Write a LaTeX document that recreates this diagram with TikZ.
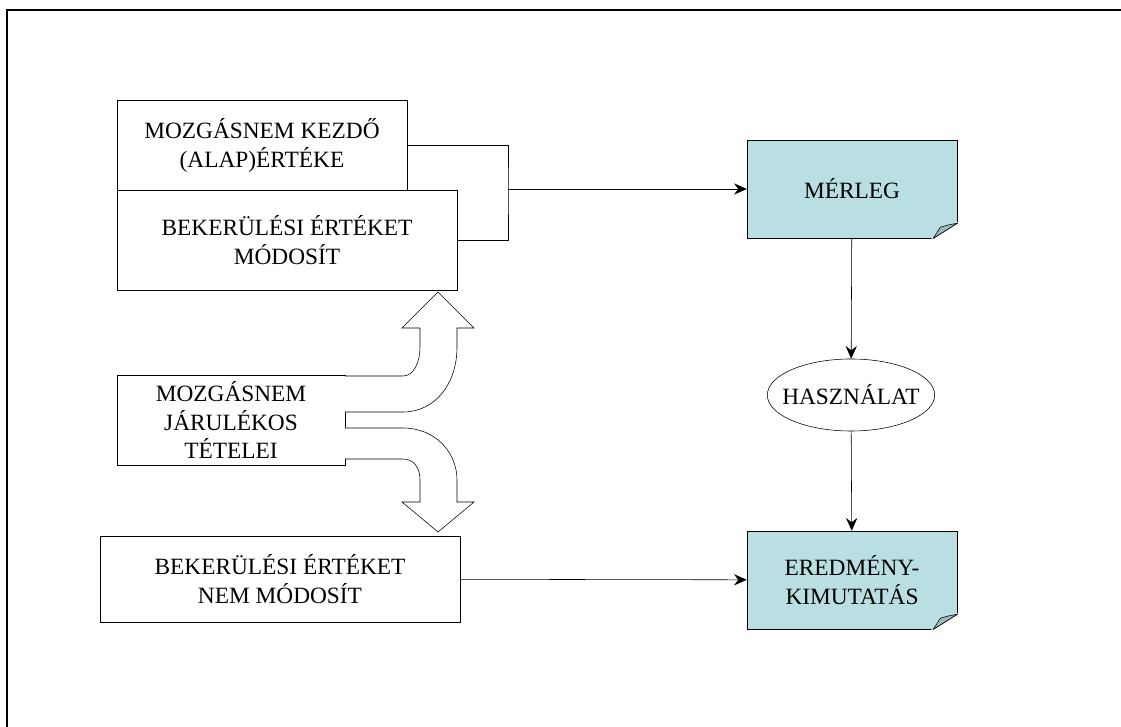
\documentclass[tikz,border=0pt]{standalone}
\usepackage{fontspec}
\setmainfont{Liberation Serif}
\usetikzlibrary{arrows.meta,shapes.geometric}

\definecolor{notefill}{RGB}{186,223,226}
\definecolor{earfill}{RGB}{158,184,187}

\tikzset{
  box/.style={shape=rectangle,draw=black,fill=white,align=center,inner sep=2pt},
  docbox/.style={shape=rectangle,draw=black,fill=notefill,align=center,
    minimum width=5.25cm,minimum height=2.45cm},
  blockarrow/.style={draw=black,fill=white,line join=miter},
  frame/.style={draw=black,line width=1.8pt},
  every edge/.style={draw=black,-{Stealth[length=9pt,width=8pt,inset=3pt]}}
}

% folded bottom-right corner of a note box
\newcommand\dogear[1]{%
  \fill[white,draw=white,line width=1pt] ([xshift=-0.6cm]#1.south east) -- ([yshift=-0.05cm,xshift=0.05cm]#1.south east) -- ([yshift=0.375cm]#1.south east) -- cycle;
  \draw ([xshift=-0.6cm]#1.south east) -- ([yshift=0.375cm]#1.south east);
  \filldraw[fill=earfill] ([xshift=-0.6cm]#1.south east) -- ([xshift=-0.425cm,yshift=0.275cm]#1.south east) .. controls ([xshift=-0.25cm,yshift=0.33cm]#1.south east) .. ([yshift=0.375cm]#1.south east) -- cycle;
}

\begin{document}
\begin{tikzpicture}[x=0.025cm,y=-0.025cm,font=\fontsize{16.6pt}{20.6pt}\selectfont]
  \useasboundingbox (0,0) rectangle (1121,727);
  \draw[frame] (7,727) -- (7,10) -- (1121,10);

  \node[box,minimum width=7.25cm,minimum height=2.25cm] (kezdo) at (262,145) {MOZGÁSNEM KEZDŐ\\(ALAP)ÉRTÉKE};
  \node[box,minimum width=8.5cm,minimum height=2.5cm] (modosit) at (287,240) {BEKERÜLÉSI ÉRTÉKET\\MÓDOSÍT};
  \node[box,minimum width=5.7cm,minimum height=2.25cm] (tetel) at (231,420) {MOZGÁSNEM\\JÁRULÉKOS\\TÉTELEI};
  \node[box,minimum width=9cm,minimum height=2.15cm] (nemmod) at (280,579) {BEKERÜLÉSI ÉRTÉKET\\NEM MÓDOSÍT};

  \node[docbox] (merleg) at (852,189) {MÉRLEG};
  \dogear{merleg}
  \node[shape=ellipse,draw=black,minimum width=4.175cm,minimum height=1.8cm,inner xsep=-6.8pt,inner ysep=0pt] (haszn) at (851,395) {HASZNÁLAT};
  \node[docbox] (eredm) at (852,580) {EREDMÉNY-\\KIMUTATÁS};
  \dogear{eredm}

  \coordinate (brk) at (508,189);
  \draw (kezdo.east) -| (brk) |- (modosit.east);
  \path (brk) edge (merleg);
  \path (merleg) edge (haszn);
  \path (haszn) edge (eredm);
  \path (nemmod) edge (eredm);

  % bent block arrows
  \filldraw[blockarrow] (345,376) -- (403,376) .. controls (414,376) and (420,362) .. (420,347)
    -- (420,328) -- (402,328) -- (438,292) -- (474,328) -- (457,328) -- (457,347)
    .. controls (457,384) and (435,412) .. (403,412) -- (345,412);
  \filldraw[blockarrow] (345,428) -- (403,428) .. controls (435,428) and (457,452) .. (457,480)
    -- (457,502) -- (474,502) -- (438,532) -- (402,502) -- (420,502) -- (420,480)
    .. controls (420,468) and (414,459) .. (403,459) -- (345,459);
\end{tikzpicture}
\end{document}
